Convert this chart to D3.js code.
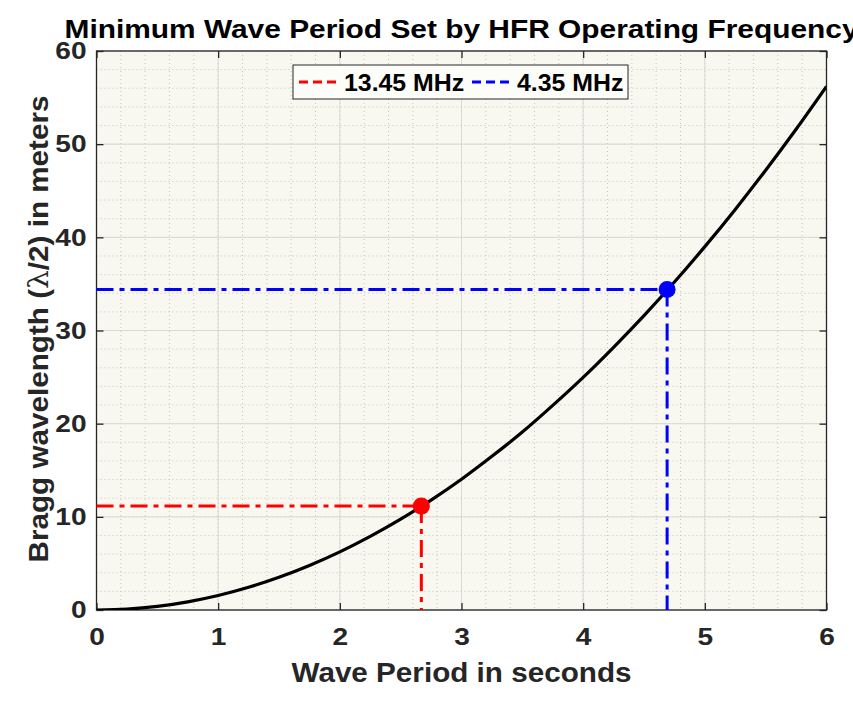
<!DOCTYPE html>
<html><head><meta charset="utf-8">
<script src="https://d3js.org/d3.v7.min.js"></script>
<style>body{margin:0;background:#fff}svg{display:block}</style>
</head><body>
<svg id="c" width="853" height="707"></svg>
<script>
// Data
const periodT = [0,0.25,0.5,0.75,1,1.25,1.5,1.75,2,2.25,2.5,2.75,3,3.25,3.5,3.75,4,4.25,4.5,4.75,5,5.25,5.5,5.75,6];
const braggL  = [0,0.1,0.39,0.88,1.56,2.44,3.51,4.78,6.24,7.9,9.75,11.8,14.04,16.5,19.1,21.96,24.97,28.2,31.6,35.2,39.0,43.0,47.2,51.6,56.2];
const freqLabels = ["13.45 MHz","4.35 MHz"];
const freqT = [2.67, 4.69];
const freqL = [11.15, 34.4];
const freqColors = ["#ff0000","#0000ff"];
const xTicks = [0,1,2,3,4,5,6];
const yTicks = [0,10,20,30,40,50,60];

const FONT = "Liberation Sans, Arial, sans-serif";
const STRETCH = 1.17;
function stretch(sel, f){
  sel.each(function(){
    const len = this.getComputedTextLength();
    if (len>0) d3.select(this).attr("textLength", len*f).attr("lengthAdjust","spacingAndGlyphs");
  });
}

const svg = d3.select("#c");
const L = 96.5, R = 826.5, T = 51, B = 610;
const x = d3.scaleLinear().domain([0,6]).range([L,R]);
const y = d3.scaleLinear().domain([0,60]).range([B,T]);
const axisCol = "#262626";

svg.append("rect").attr("x",L).attr("y",T).attr("width",R-L).attr("height",B-T).attr("fill","#f8f8f1");

// minor grid
const g = svg.append("g");
d3.range(0,6.0001,0.2).forEach(v=>{
  g.append("line").attr("x1",x(v)).attr("x2",x(v)).attr("y1",T).attr("y2",B)
   .attr("stroke","#c4c4bc").attr("stroke-width",1).attr("stroke-dasharray","1,3");
});
d3.range(0,60.001,2).forEach(v=>{
  g.append("line").attr("y1",y(v)).attr("y2",y(v)).attr("x1",L).attr("x2",R)
   .attr("stroke","#c4c4bc").attr("stroke-width",1).attr("stroke-dasharray","1,3");
});
// major grid
xTicks.forEach(v=>g.append("line").attr("x1",x(v)).attr("x2",x(v)).attr("y1",T).attr("y2",B).attr("stroke","#dadad2").attr("stroke-width",1));
yTicks.forEach(v=>g.append("line").attr("y1",y(v)).attr("y2",y(v)).attr("x1",L).attr("x2",R).attr("stroke","#dadad2").attr("stroke-width",1));

// axes
const fmt = d3.format("d");
function styleAxis(sel){
  sel.select(".domain").remove();
  sel.selectAll(".tick line").attr("stroke",axisCol).attr("stroke-width",1.3);
  sel.selectAll(".tick text").attr("fill",axisCol).attr("font-family",FONT)
     .attr("font-weight","bold").attr("font-size","24px");
}
svg.append("g").attr("transform",`translate(0,${B})`)
  .call(d3.axisBottom(x).tickValues(xTicks).tickFormat(fmt).tickSizeInner(-7).tickPadding(18))
  .call(styleAxis).selectAll(".tick text").call(stretch, STRETCH);
svg.append("g").attr("transform",`translate(0,${T})`)
  .call(d3.axisTop(x).tickValues(xTicks).tickFormat("").tickSizeInner(-7))
  .call(styleAxis);
svg.append("g").attr("transform",`translate(${L},0)`)
  .call(d3.axisLeft(y).tickValues(yTicks).tickFormat(fmt).tickSizeInner(-7).tickPadding(10))
  .call(styleAxis).selectAll(".tick text").call(stretch, STRETCH);
svg.append("g").attr("transform",`translate(${R},0)`)
  .call(d3.axisRight(y).tickValues(yTicks).tickFormat("").tickSizeInner(-7))
  .call(styleAxis);
svg.append("rect").attr("x",L).attr("y",T).attr("width",R-L).attr("height",B-T)
  .attr("fill","none").attr("stroke",axisCol).attr("stroke-width",1.3);

// curve
svg.append("clipPath").attr("id","cp").append("rect").attr("x",L).attr("y",T).attr("width",R-L).attr("height",B-T);
const line = d3.line().x((d,i)=>x(periodT[i])).y(d=>y(d)).curve(d3.curveMonotoneX);
svg.append("path").datum(braggL).attr("d",line).attr("fill","none").attr("stroke","#000").attr("stroke-width",3.2).attr("clip-path","url(#cp)");

// reference lines and markers
const dash = "17,6,5,6";
freqT.forEach((t,i)=>{
  const c = freqColors[i];
  svg.append("line").attr("x1",x(0)).attr("x2",x(t)).attr("y1",y(freqL[i])).attr("y2",y(freqL[i]))
    .attr("stroke",c).attr("stroke-width",3).attr("stroke-dasharray",dash);
  svg.append("line").attr("x1",x(t)).attr("x2",x(t)).attr("y1",y(freqL[i])).attr("y2",y(0))
    .attr("stroke",c).attr("stroke-width",3).attr("stroke-dasharray",dash);
  svg.append("circle").attr("cx",x(t)).attr("cy",y(freqL[i])).attr("r",8.5).attr("fill",c);
});

// legend
const lg = svg.append("g");
lg.append("rect").attr("x",293).attr("y",65).attr("width",335).attr("height",34)
  .attr("fill","#fcfcf8").attr("stroke",axisCol).attr("stroke-width",1);
const legX = [299, 472];
freqLabels.forEach((lab,i)=>{
  lg.append("line").attr("x1",legX[i]).attr("x2",legX[i]+41).attr("y1",82).attr("y2",82)
    .attr("stroke",freqColors[i]).attr("stroke-width",3).attr("stroke-dasharray","9,5");
  lg.append("text").attr("x",legX[i]+45).attr("y",90.5).text(lab)
    .attr("font-family",FONT).attr("font-weight","bold").attr("font-size","23px").attr("fill","#000")
    .call(stretch, 1.08);
});

// title
svg.append("text").attr("x",(L+R)/2).attr("y",37.5).attr("text-anchor","middle")
  .attr("font-family",FONT).attr("font-weight","bold").attr("font-size","26px").attr("fill","#000")
  .text("Minimum Wave Period Set by HFR Operating Frequency")
  .attr("textLength",794).attr("lengthAdjust","spacingAndGlyphs");

// axis labels
svg.append("text").attr("x",(L+R)/2).attr("y",682).attr("text-anchor","middle")
  .attr("font-family",FONT).attr("font-weight","bold").attr("font-size","28px").attr("fill",axisCol)
  .text("Wave Period in seconds")
  .attr("textLength",340).attr("lengthAdjust","spacingAndGlyphs");
const yl = svg.append("text").attr("transform",`translate(48,329) rotate(-90)`).attr("text-anchor","middle")
  .attr("font-family",FONT).attr("font-weight","bold").attr("font-size","28px").attr("fill",axisCol);
yl.append("tspan").text("Bragg wavelength (");
yl.append("tspan").attr("font-weight","normal").attr("font-family","DejaVu Serif, Liberation Serif, serif").text("λ");
yl.append("tspan").text("/2) in meters");
yl.attr("textLength",467).attr("lengthAdjust","spacingAndGlyphs");
</script>
</body></html>
